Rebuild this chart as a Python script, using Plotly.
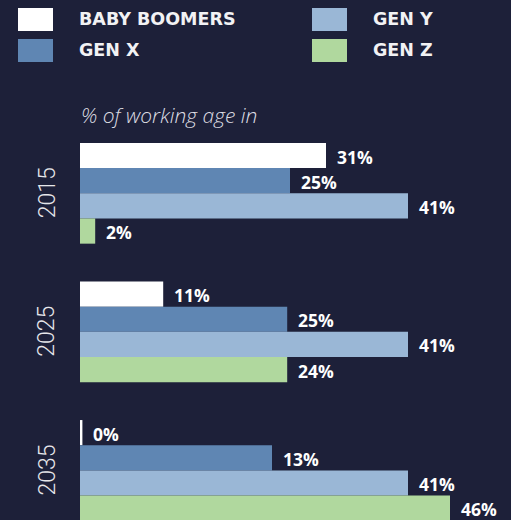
import plotly.graph_objects as go

years = ["2015", "2025", "2035"]
series = ["BABY BOOMERS", "GEN X", "GEN Y", "GEN Z"]
colors = ["#ffffff", "#5f86b3", "#9ab7d6", "#b0d89e"]
# drawn bar lengths (% scale)
baby_boomers = [30.75, 10.4, 0.3]
gen_x = [26.25, 25.9, 24.0]
gen_y = [41.0, 41.0, 41.0]
gen_z = [1.9, 25.9, 46.25]
# printed labels
labels_bb = ["31%", "11%", "0%"]
labels_x = ["25%", "25%", "13%"]
labels_y = ["41%", "41%", "41%"]
labels_z = ["2%", "24%", "46%"]

values = [baby_boomers, gen_x, gen_y, gen_z]
labels = [labels_bb, labels_x, labels_y, labels_z]

W, H = 511, 520
BG = "#1d2039"
LABEL_FONT = "Open Sans"

fig = go.Figure()
ypos = list(range(len(years)))
for name, col, vals in zip(series, colors, values):
    fig.add_trace(go.Bar(y=ypos, x=vals, orientation="h", name=name,
                         marker=dict(color=col, line=dict(width=0)),
                         showlegend=False, hoverinfo="skip"))

bargap = 0.273
gw = 1 - bargap
n = len(series)
ann = []
for k in range(n):
    for i in range(len(years)):
        off = -gw / 2 + (k + 0.5) * gw / n
        ann.append(dict(x=values[k][i], y=i + off, xref="x", yref="y",
                        text=labels[k][i], showarrow=False, xanchor="left",
                        yanchor="middle", xshift=9, yshift=-1,
                        font=dict(family=LABEL_FONT, size=17.5, color="#ffffff", weight="bold")))

for i, yr in enumerate(years):
    ann.append(dict(x=47 / W, y=i, xref="paper", yref="y", text=yr, textangle=-90,
                    showarrow=False, xanchor="center", yanchor="middle",
                    font=dict(family="Roboto", size=23, color="#e6e6ea", weight=300)))

ann.append(dict(x=79 / W, y=1 - 115 / H, xref="paper", yref="paper",
                text="% of working age in", showarrow=False, xanchor="left", yanchor="middle",
                font=dict(family="Open Sans", size=21, color="#dcdce2", style="italic", weight=300)))

shapes = []
leg_pos = [(18, 8, 77), (18, 39, 77), (312, 8, 371), (312, 39, 371)]
order = [0, 1, 2, 3]
for k, (sx, sy, tx) in zip(order, leg_pos):
    shapes.append(dict(type="rect", xref="paper", yref="paper",
                       x0=sx / W, x1=(sx + 35) / W, y0=1 - (sy + 23) / H, y1=1 - sy / H,
                       fillcolor=colors[k], line=dict(width=0)))
    ann.append(dict(x=tx / W, y=1 - (sy + 11.5) / H, xref="paper", yref="paper",
                    text=series[k], showarrow=False, xanchor="left", yanchor="middle",
                    font=dict(family="DejaVu Sans", size=17.5, color="#f2f2f4", weight="bold")))

px_per = 8.0
x0px = 80
c0 = 193.3
pitch = 138.55

fig.update_layout(
    width=W, height=H, margin=dict(l=0, r=0, t=0, b=0),
    paper_bgcolor=BG, plot_bgcolor=BG,
    barmode="group", bargap=bargap, bargroupgap=0,
    xaxis=dict(range=[-x0px / px_per, (W - x0px) / px_per], visible=False, fixedrange=True),
    yaxis=dict(range=[(H - c0) / pitch, -c0 / pitch], visible=False, fixedrange=True),
    annotations=ann, shapes=shapes,
)

fig.write_html("out.html", config={"displayModeBar": False},
               post_script="document.body.style.margin='0';document.body.style.overflow='hidden';document.body.style.background='" + BG + "';")
